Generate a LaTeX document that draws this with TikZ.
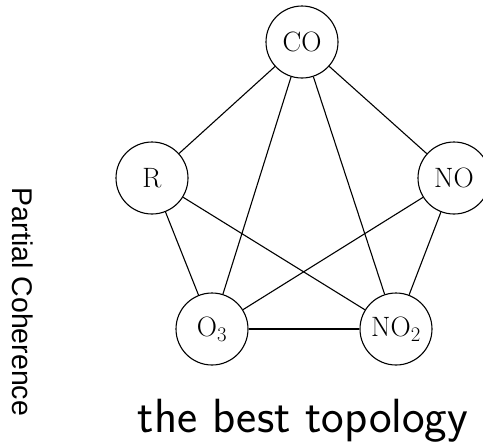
\documentclass[tikz,border=0pt]{standalone}
\usepackage{fontspec}
\newfontfamily\helv{Liberation Sans}
\begin{document}
\begin{tikzpicture}[x=1pt,y=-1pt,
  st/.style={draw,circle,line width=1.1pt,minimum size=72pt,inner sep=0pt,font=\fontsize{28pt}{33pt}\selectfont},
  ed/.style={line width=1.1pt}]
\useasboundingbox (0,0) rectangle (483,445);
\node[st] (co) at (302,42) {CO};
\node[st] (r) at (152,178) {R};
\node[st] (no) at (454,178) {NO};
\node[st] (o3) at (212,329) {O$_3$};
\node[st] (no2) at (396,329) {NO$_2$};
\draw[ed] (co) -- (r);
\draw[ed] (co) -- (no);
\draw[ed] (co) -- (o3);
\draw[ed] (co) -- (no2);
\draw[ed] (r) -- (o3);
\draw[ed] (r) -- (no2);
\draw[ed] (no) -- (o3);
\draw[ed] (no) -- (no2);
\draw[ed] (o3) -- (no2);
\node[rotate=-90,font=\helv\fontsize{28.5pt}{33pt}\selectfont,inner sep=0pt] (lab) at (23,302) {Partial Coherence};
\node[anchor=base,font=\sffamily\fontsize{48pt}{53pt}\selectfont,inner sep=0pt] (ttl) at (303,432) {the best topology};
\end{tikzpicture}
\end{document}
